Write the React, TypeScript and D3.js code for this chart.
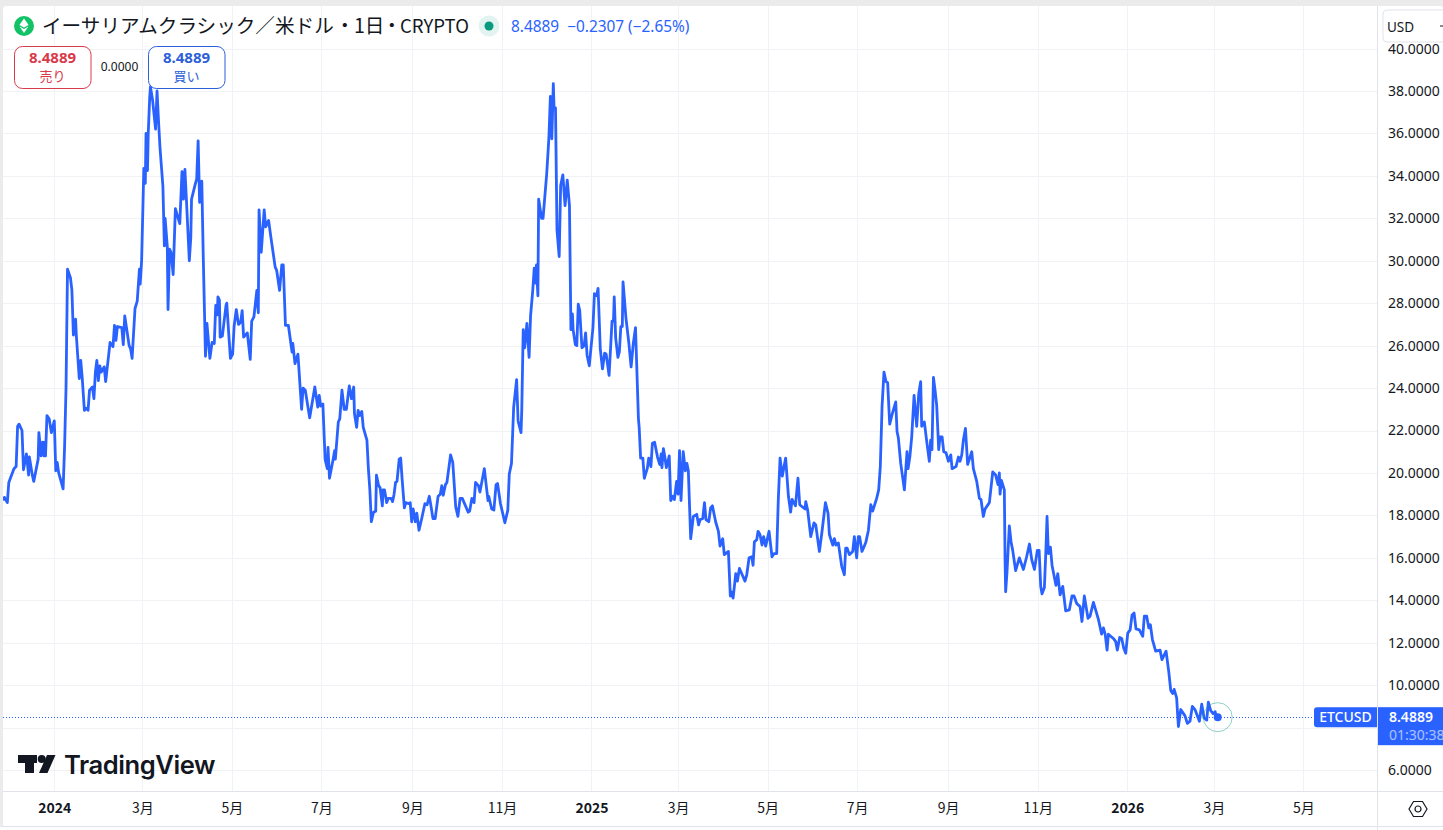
import { useEffect, useRef } from 'react';
import * as d3 from 'd3';

// [days since 2024-01-01, price] at each visible turn of the line
const late2023: [number, number][] = [
  [-35, 18.7], [-34, 18.85], [-32, 18.6], [-31, 19.55], [-27.5, 20.2], [-26, 20.3], [-25, 22.2], [-24, 22.3],
  [-22, 22], [-21, 20.15], [-19, 20.9], [-17.5, 19.9], [-17, 20.75], [-15, 19.9], [-14, 19.6], [-11, 20.65],
  [-10.5, 21.9], [-9, 20.8], [-8, 21.45], [-7, 20.8], [-6.5, 21.45], [-6, 20.8], [-5, 22.7], [-3.5, 22.55],
  [-2, 21.9],
];
const early2024: [number, number][] = [
  [0, 22.45], [1, 20.1], [2, 20.5], [3, 20], [6, 19.25], [7, 21.2], [8, 24.05], [9, 29.6], [11, 29.2], [12, 28.6],
  [13, 26.5], [14.5, 27.25], [15, 26.5], [17, 24.45], [18, 25.3], [19, 24.5], [20.5, 22.95], [21.5, 23.05],
  [23, 22.95], [24, 23.9], [26, 24.05], [27, 23.5], [28, 24.75], [29, 25.3], [30, 24.35], [31, 25.05], [32, 24.75],
  [34, 25], [35, 24.3], [38, 26.15], [40, 25.95], [41, 26.95], [42, 26.25], [43, 26.9], [46, 26.85], [47, 26.05],
  [48, 27.4], [51, 26], [52, 25.85], [53, 25.4], [55, 27.75], [56.5, 28.1], [58, 29.6], [58.5, 28.9], [59.5, 30],
  [61, 34.35], [62, 33.65], [62.5, 36], [63.5, 34.25], [64, 36], [65, 37.7], [65.5, 38.2], [67, 37.55], [69, 36.2],
  [70, 38], [71, 36.6], [72, 35.35], [74, 33.5], [75, 30.7], [75.5, 32], [77, 30.65], [77.5, 27.7], [78.5, 30.55],
  [79.5, 30.4], [81, 29.35], [82.5, 32.45], [85.5, 31.75], [87, 34.2], [88, 32.9], [89, 34.3], [90, 32.9], [92, 30],
  [93, 31.1], [93.5, 32.9], [96, 33.6], [97, 33.85], [98, 35.65], [99, 32.75], [100.5, 33.75], [101.5, 30.15],
  [103, 25.5], [104, 27.05], [106, 25.4], [107.5, 26.15], [109, 26.1], [110, 27.9], [111, 27.45], [111.5, 28.3],
  [112.5, 28.15], [113, 26.4], [114.5, 26.45], [117, 27.9], [117.5, 28], [119, 26.4], [120, 25.4], [121.5, 25.6],
  [122.5, 26.9], [124, 27.7], [125.5, 27], [127, 27.1], [128, 27.65], [129, 26.4], [131.5, 26.6], [133.5, 25.35],
  [134.5, 27.15], [136, 27.35], [138, 28.6], [139, 27.55], [139.5, 32.4], [141, 30.4], [143, 32.4], [144, 31.6],
  [146, 31.9], [148, 30.9], [150.5, 29.7], [151.5, 29.55], [153.5, 28.6], [155, 29.8], [156, 29.8], [157.5, 26.95],
  [159.5, 26.95], [162, 25.7], [162.5, 26.1], [164, 25.15], [166, 25.6], [168.5, 23], [169.5, 24], [171, 23.9],
  [174, 22.6], [177.5, 24.05], [179.5, 23.1], [180.5, 23.65],
];
const late2024: [number, number][] = [
  [181.5, 23.15], [183, 23.25], [184.5, 20.65], [186, 20.2], [186.5, 21.2], [187.5, 19.75], [190, 20.65], [191, 21.05],
  [191.5, 20.65], [193.5, 22.4], [194.5, 22.55], [196, 23.9], [197.5, 23], [199, 23], [201, 24.1], [202.5, 23.5],
  [204, 24.05], [204.5, 22.8], [206, 22.15], [207, 22.95], [208, 22.7], [209.5, 22.9], [210.5, 22.15], [213, 21.55],
  [214, 20.2], [215, 19.2], [216, 17.7], [217.5, 18.15], [219, 18.2], [219.5, 19.9], [221, 19.4], [222, 19.3],
  [223.5, 18.45], [224, 19.2], [225, 19.2], [226.5, 18.6], [227.5, 18.8], [229.5, 18.8], [230.5, 18.65], [231.5, 19],
  [232.5, 19.55], [233.5, 19.6], [235, 20.65], [236, 20.7], [237, 19.7], [238.5, 18.35], [239.5, 18.6], [241.5, 18.55],
  [242.5, 18.6], [243.5, 17.7], [244.5, 18.3], [246, 17.7], [247, 18.1], [248.5, 17.3], [250.5, 17.9], [252.5, 18.55],
  [254, 18.5], [255.5, 18.9], [256.5, 18.5], [258, 17.85], [259.5, 17.85], [261.5, 18.9], [263, 19], [264, 19.4],
  [265, 18.95], [266.5, 19.45], [267.5, 19.55], [270, 20.85], [271.5, 20.5], [273.5, 18.4], [275, 17.95], [276.5, 18.8],
  [278, 18.8], [282, 18.15], [283, 18.2], [284.5, 18.8], [286, 18.6], [287, 19.55], [289, 19.4], [290, 19.1], [293, 20.2],
  [294.5, 19.3], [295.5, 18.7], [296, 18.9], [298, 18.3], [299.5, 18.25], [301, 19.45], [302, 19.5], [304, 18.55],
  [307, 17.65], [309, 18.25], [310, 19.95], [311.5, 20.45], [313, 23.1], [315, 24.4], [316, 22.45], [318, 21.9],
  [318.5, 22.95], [319.5, 26.75], [320.5, 25.9], [322, 27.05], [323.5, 25.45], [324.5, 27.4], [326, 28.6], [327, 29.65],
  [328, 28.95], [328.5, 29.8], [329.5, 28.35], [330, 32.9], [332, 32], [333, 32], [335.5, 34.1], [337, 35.8], [338, 37.75],
  [339, 35.75], [340, 38.35], [340.5, 37.2], [341.5, 37.2], [342.5, 31.45], [344, 30.2], [345, 33.55], [346.5, 34.05],
  [348, 32.6], [349.5, 33.8], [351, 32.6], [352, 26.75], [353, 27.5], [353.5, 26.75], [355, 26.05], [356, 26], [357, 27.95],
  [358, 27.65], [359.5, 25.9], [361, 26], [362, 26.6], [363, 25.55], [364.5, 25.05],
];
const early2025: [number, number][] = [
  [367, 26.85], [368, 28.45], [369.5, 28.35], [370.5, 28.7], [372, 25.85], [373.5, 24.9], [375, 25.65], [376, 25.6],
  [378, 24.6], [380, 27.15], [381, 27.15], [381.5, 28.3], [382.5, 26.35], [384, 25.45], [385, 25.7], [386, 26.9], [387, 26.9],
  [387.5, 29], [389.5, 27.3], [391.5, 26.1], [393, 25], [394.5, 26.1], [396, 26.85], [398, 22.55], [398.5, 22.15],
  [399.5, 20.7], [401, 20.7], [402, 19.75], [404, 20.2], [405, 20.7], [406.5, 20.3], [407.5, 21.4], [409, 21.45], [411, 20.75],
  [412.5, 20.4], [413.5, 20.9], [414, 20.25], [415, 21.15], [416, 20.75], [417, 20.25], [419, 20.8], [420, 18.7],
  [421.5, 18.9], [422.5, 18.75], [424, 19.6], [425, 19], [426, 21.05], [427, 18.7], [428.5, 21], [430, 20.1], [431, 20.45],
  [432, 20.1], [433.6, 16.9], [435.4, 17.95], [437.7, 18.05], [439, 17.55], [440, 17.8], [441.8, 17.85], [443, 18.6],
  [444, 17.8], [445.9, 17.7], [447.2, 18.35], [448.4, 18.45], [450.6, 17.7], [452.5, 17.25], [453.6, 16.55], [455.4, 16.9],
  [456.5, 16.15], [459.3, 16.3], [460.6, 14.2], [461.3, 14.4], [462.5, 14.1], [464.3, 15.25], [465.4, 14.9], [466.8, 15.5],
  [468.4, 15.25], [470.6, 14.9], [471.8, 15.2], [473.4, 16], [475.2, 16.05], [476.1, 15.65], [477, 16.75], [478.6, 16.85],
  [479.5, 17.25], [480.8, 17.1], [482.2, 16.6], [483.3, 17], [484.7, 16.55], [487, 17.25], [489, 16.05], [490.4, 16.2],
  [492.2, 16.2], [493.3, 18.75], [494.5, 20.7], [496, 19.85], [498.3, 20.7], [500.2, 18.9], [501.7, 18.15], [502.7, 18.75],
  [505, 18.45], [506.7, 19.75], [507.9, 18.5], [511.5, 18.3], [512, 18.65], [513.3, 18.25], [515.4, 17], [517.6, 17.65],
  [518.8, 17.55], [521.3, 16.3], [523.1, 17.25], [525.4, 18.6], [527.2, 18.1], [528.1, 17.1], [530.4, 16.6], [531.5, 16.9],
  [532.6, 16.6], [534.2, 16.7], [536.5, 15.6], [538.3, 15.2], [539.2, 16.45], [540.2, 16.45], [541.7, 16.15], [544, 16.3],
  [545.1, 17], [546.7, 16], [547.8, 17], [548.7, 17],
];
const late2025: [number, number][] = [
  [550.3, 16.3], [551.3, 16.45], [553, 16.75], [554.7, 17.3], [556.3, 18.5], [557.6, 18.2], [560.3, 18.8], [561.7, 19.2],
  [562.8, 20.3], [564, 23.15], [565.3, 24.75], [566.7, 24.3], [567.8, 24.25], [569.2, 22.3], [571, 22.8], [573.3, 23.35],
  [574.2, 21.95], [575.1, 21.65], [576.7, 20.45], [579.2, 19.2], [581, 21], [581.7, 20.2], [583, 20.8], [584.2, 21.7],
  [585.8, 23.65], [587.6, 22.2], [589, 23.75], [590.3, 24.3], [591, 22.2], [592.8, 22.4], [594.4, 21.5], [596.2, 20.55],
  [597.1, 21.55], [598, 21.1], [599, 24.5], [600.1, 23.9], [601.2, 23.2], [602.6, 21.1], [603.5, 21.7], [604.9, 21.7],
  [606, 21], [607.6, 20.95], [609.2, 20.55], [610.8, 20.85], [611.7, 20.2], [614.4, 20.3], [616, 20.75], [617.1, 20.55],
  [618.3, 20.85], [619.4, 21.55], [620.8, 22.1], [622.3, 20.4], [625.1, 21], [626.2, 20.2], [628.5, 19.6], [630.3, 18.8],
  [631.4, 18.75], [633, 17.95], [634.2, 18.3], [637.1, 18.6], [639.4, 20.05], [641.4, 19.9], [643, 19.45], [643.9, 20],
  [644.4, 19], [645.3, 19.65], [647.3, 19.2], [647.8, 15.9], [648.2, 14.4], [649.1, 15.3], [650.7, 17.5], [651.9, 16.75],
  [653, 16.35], [655, 15.4], [657.5, 16], [660.3, 15.45], [662.5, 16.05], [664.4, 16.65], [666, 15.9], [667.8, 15.45],
  [669.8, 16.35], [671, 16.35], [672.1, 14.65], [673, 14.3], [674.6, 14.6], [675.7, 16.5], [676.4, 17.95], [677.3, 16.2],
  [678.7, 16.5], [679.8, 15.65], [682.5, 14.7], [683.7, 15.25], [685.3, 14.25], [687.1, 14.65], [689.1, 13.5], [691.6, 13.55],
  [693.4, 14.2], [694.8, 14.2], [696.6, 13.85], [698.9, 13.7], [700.2, 13], [701.8, 14.2], [704.3, 13.15], [705.7, 13.25],
  [708, 13.9], [711.4, 13.1], [713.6, 12.4], [714.8, 12.7], [716, 12.4], [717.3, 11.65], [718.2, 12.4], [721.6, 12.2],
  [723.2, 12.05], [724.3, 11.65], [725.9, 12.25], [727.3, 12.2], [728.6, 11.75],
];
const early2026: [number, number][] = [
  [730, 11.5], [731.4, 12.45], [733, 12.6], [734.3, 13.3], [735.7, 13.4], [737, 12.65], [739.3, 12.6], [741.6, 12.3],
  [742.7, 13.25], [744.3, 13.25], [745.7, 12.7], [746.8, 12.85], [748.2, 12.15], [750.4, 11.6], [753.4, 11.65], [754.7, 11.2],
  [757.5, 11.6], [759.3, 10.65], [760.7, 9.75], [762, 9.6], [763, 9.8], [764.7, 9.4], [765.4, 8.6], [765.9, 8.05],
  [767.5, 8.85], [770.4, 8.55], [772, 8.2], [773.8, 8.3], [775.4, 9], [777.2, 8.85], [780.2, 8.3], [781.8, 9.1],
  [783.4, 8.45], [785.2, 8.35], [786.3, 9.2], [787.9, 8.8], [789.7, 8.65], [790.9, 8.75], [792, 8.45], [792.7, 8.4889],
];

const priceTicks = [6, 10, 12, 14, 16, 18, 20, 22, 24, 26, 28, 30, 32, 34, 36, 38, 40];
const gridPrices = [6, 8, 10, 12, 14, 16, 18, 20, 22, 24, 26, 28, 30, 32, 34, 36, 38, 40];
const monthTicks = [
  '2024-01-01', '2024-03-01', '2024-05-01', '2024-07-01', '2024-09-01', '2024-11-01', '2025-01-01',
  '2025-03-01', '2025-05-01', '2025-07-01', '2025-09-01', '2025-11-01', '2026-01-01', '2026-03-01', '2026-05-01',
];
const monthLabels = ['2024', '3月', '5月', '7月', '9月', '11月', '2025', '3月', '5月', '7月', '9月', '11月', '2026', '3月', '5月'];
const lastPrice = 8.4889;

const BLUE = '#2962ff';
const GRID = '#f0f2f6';
const BORDER = '#e0e3eb';
const TEXT = '#131722';
const FONT = '"Noto Sans", "Noto Sans CJK JP", sans-serif';
const JP_FONT = '"Noto Sans CJK JP", "Noto Sans", sans-serif';

const DAY_MS = 86400000;
const dayToDate = (d: number) => new Date(Date.UTC(2024, 0, 1) + d * DAY_MS);

export default function App() {
  const svgRef = useRef<SVGSVGElement>(null);

  useEffect(() => {
    if (!svgRef.current) return;
    const svg = d3.select(svgRef.current);
    svg.selectAll('*').remove();

    const left = 3, top = 6, plotRight = 1377, plotBottom = 791, axisBottom = 827;

    const x = d3.scaleUtc()
      .domain([new Date('2024-01-01'), new Date('2026-05-01')])
      .range([54.3, 1303.3]);
    const y = d3.scaleLinear().domain([6, 38]).range([770, 91]);

    // page frame
    svg.append('rect').attr('width', 1443).attr('height', 830).attr('fill', '#ebebeb');
    svg.append('rect').attr('x', left).attr('y', top).attr('width', 1440).attr('height', 821).attr('rx', 3).attr('fill', '#fff');
    svg.append('rect').attr('y', 827).attr('width', 1443).attr('height', 3).attr('fill', '#fff');

    const defs = svg.append('defs');
    defs.append('clipPath').attr('id', 'plot-clip').append('rect')
      .attr('x', left).attr('y', top).attr('width', plotRight - left).attr('height', plotBottom - top);
    defs.append('clipPath').attr('id', 'price-clip').append('rect')
      .attr('x', 1378).attr('y', 0).attr('width', 65).attr('height', 830);

    // grid
    const grid = svg.append('g').attr('stroke', GRID).attr('stroke-width', 1);
    grid.selectAll('line.h').data(gridPrices).enter().append('line')
      .attr('x1', left).attr('x2', plotRight)
      .attr('y1', d => Math.round(y(d)) + 0.5).attr('y2', d => Math.round(y(d)) + 0.5);
    grid.selectAll('line.v').data(monthTicks).enter().append('line')
      .attr('x1', d => Math.round(x(new Date(d))) + 0.5).attr('x2', d => Math.round(x(new Date(d))) + 0.5)
      .attr('y1', top).attr('y2', plotBottom);

    // watermark
    const logo = svg.append('g').attr('fill', TEXT);
    logo.append('path').attr('d', 'M18 755h19v8h-3v10h-9v-10h-7z');
    logo.append('circle').attr('cx', 41.7).attr('cy', 759).attr('r', 4);
    logo.append('path').attr('d', 'M47 755h8.5l-8 18h-8.5z');
    logo.append('text').attr('x', 64).attr('y', 773.5)
      .style('font-family', '"Inter", sans-serif').style('font-size', '25.6px').style('font-weight', 600)
      .style('letter-spacing', '-0.45px').text('TradingView');

    // last price line
    svg.append('line')
      .attr('x1', left).attr('x2', 1314).attr('y1', Math.round(y(lastPrice)) + 0.5).attr('y2', Math.round(y(lastPrice)) + 0.5)
      .attr('stroke', BLUE).attr('stroke-width', 1).attr('stroke-dasharray', '1 2');

    // price line
    const points = [...late2023, ...early2024, ...late2024, ...early2025, ...late2025, ...early2026];
    const line = d3.line<[number, number]>()
      .x(d => x(dayToDate(d[0])))
      .y(d => y(d[1]));
    svg.append('path')
      .datum(points)
      .attr('clip-path', 'url(#plot-clip)')
      .attr('fill', 'none')
      .attr('stroke', BLUE)
      .attr('stroke-width', 2.8)
      .attr('stroke-linejoin', 'round')
      .attr('d', line);

    // last point marker
    const last = points[points.length - 1];
    const lastX = x(dayToDate(last[0]));
    svg.append('circle').attr('cx', lastX).attr('cy', y(last[1])).attr('r', 14.5)
      .attr('fill', 'none').attr('stroke', '#089981').attr('stroke-opacity', 0.45).attr('stroke-width', 1);
    svg.append('circle').attr('cx', lastX).attr('cy', y(last[1])).attr('r', 4).attr('fill', BLUE);

    // price axis
    const yAxis = svg.append('g')
      .attr('transform', `translate(${plotRight},0)`)
      .call(d3.axisRight(y).tickValues(priceTicks).tickSize(0).tickPadding(11).tickFormat(d => (+d).toFixed(4)));
    yAxis.select('.domain').remove();
    yAxis.selectAll('text')
      .style('font-family', FONT).style('font-size', '14px').style('fill', TEXT);

    // time axis
    const xAxis = svg.append('g')
      .attr('transform', `translate(0,${plotBottom})`)
      .call(d3.axisBottom(x)
        .tickValues(monthTicks.map(d => new Date(d)))
        .tickSize(0)
        .tickPadding(12)
        .tickFormat((_, i) => monthLabels[i]));
    xAxis.select('.domain').remove();
    xAxis.selectAll('text')
      .style('font-family', JP_FONT).style('font-size', '14px').style('fill', TEXT)
      .style('font-weight', (_, i) => (monthLabels[i].length === 4 ? 700 : 400));

    // axis borders
    const borders = svg.append('g').attr('stroke', BORDER).attr('stroke-width', 1);
    borders.append('line').attr('x1', left).attr('x2', 1443).attr('y1', plotBottom + 0.5).attr('y2', plotBottom + 0.5);
    borders.append('line').attr('x1', left).attr('x2', 1443).attr('y1', axisBottom - 0.5).attr('y2', axisBottom - 0.5);
    borders.append('line').attr('x1', plotRight + 0.5).attr('x2', plotRight + 0.5).attr('y1', top).attr('y2', 830);

    // settings icon
    const gear = svg.append('g').attr('transform', 'translate(1418,809)').attr('fill', 'none').attr('stroke', TEXT).attr('stroke-width', 1.2);
    gear.append('path').attr('d', 'M-9 0L-4.5-7.5h9L9 0 4.5 7.5h-9z');
    gear.append('circle').attr('r', 3);

    // currency selector
    svg.append('rect').attr('x', 1383).attr('y', 10).attr('width', 70).attr('height', 32).attr('rx', 4)
      .attr('fill', '#fff').attr('stroke', BORDER);
    svg.append('text').attr('x', 1387).attr('y', 31.5).style('font-family', FONT).style('font-size', '13.5px').style('fill', TEXT).text('USD');
    svg.append('path').attr('d', 'M1440 26h3').attr('stroke', TEXT).attr('stroke-width', 1);

    // last price flags
    const flagY = y(lastPrice);
    svg.append('path')
      .attr('d', `M1377 ${flagY - 10}H1317a3 3 0 0 0-3 3V${flagY + 7}a3 3 0 0 0 3 3H1377z`)
      .attr('fill', BLUE);
    svg.append('text').attr('x', 1345.5).attr('y', flagY + 5).attr('text-anchor', 'middle')
      .style('font-family', FONT).style('font-size', '14px').style('font-weight', 500).style('fill', '#fff').text('ETCUSD');
    const priceFlag = svg.append('g').attr('clip-path', 'url(#price-clip)');
    priceFlag.append('rect').attr('x', 1378).attr('y', flagY - 10).attr('width', 65).attr('height', 38).attr('fill', BLUE);
    priceFlag.append('text').attr('x', 1389).attr('y', flagY + 5)
      .style('font-family', FONT).style('font-size', '14px').style('font-weight', 600).style('fill', '#fff').text(lastPrice.toFixed(4));
    priceFlag.append('text').attr('x', 1389).attr('y', flagY + 23)
      .style('font-family', FONT).style('font-size', '14px').style('fill', '#fff').style('opacity', 0.6).text('01:30:38');

    // header
    svg.append('circle').attr('cx', 24).attr('cy', 26).attr('r', 10).attr('fill', '#12c266');
    const etc = svg.append('g').attr('fill', '#fff');
    etc.append('path').attr('d', 'M24 18.5l4.6 6.6L24 27.6l-4.6-2.5z');
    etc.append('path').attr('d', 'M19.6 26.6L24 29l4.4-2.4L24 33z');
    const title = svg.append('text').attr('y', 33)
      .style('font-family', JP_FONT).style('font-size', '19.6px').style('fill', TEXT);
    title.append('tspan').attr('x', 42).text('イーサリアムクラシック／米ドル');
    title.append('tspan').attr('x', 335).text('・');
    title.append('tspan').attr('x', 354).text('1日');
    title.append('tspan').attr('x', 382).text('・');
    title.append('tspan').attr('x', 400).style('font-size', '18.5px').text('CRYPTO');
    svg.append('circle').attr('cx', 489).attr('cy', 26).attr('r', 10.5).attr('fill', '#e2f3f0');
    svg.append('circle').attr('cx', 489).attr('cy', 26).attr('r', 4.5).attr('fill', '#089981');
    svg.append('text').attr('x', 511).attr('y', 31.5)
      .style('font-family', FONT).style('font-size', '15.4px').style('fill', BLUE).style('white-space', 'pre')
      .text('8.4889  −0.2307 (−2.65%)');

    // sell / buy boxes
    const boxes = [
      { x: 14.5, color: '#d93a4a', price: lastPrice.toFixed(4), label: '売り' },
      { x: 148.5, color: '#2d5fd8', price: lastPrice.toFixed(4), label: '買い' },
    ];
    boxes.forEach(b => {
      svg.append('rect').attr('x', b.x).attr('y', 46.5).attr('width', 76.5).attr('height', 42).attr('rx', 8)
        .attr('fill', '#fff').attr('stroke', b.color);
      svg.append('text').attr('x', b.x + 38).attr('y', 63).attr('text-anchor', 'middle')
        .style('font-family', FONT).style('font-size', '15px').style('font-weight', 700).style('fill', b.color).text(b.price);
      svg.append('text').attr('x', b.x + 38).attr('y', 81).attr('text-anchor', 'middle')
        .style('font-family', JP_FONT).style('font-size', '13px').style('fill', b.color).text(b.label);
    });
    svg.append('text').attr('x', 119.5).attr('y', 71).attr('text-anchor', 'middle')
      .style('font-family', FONT).style('font-size', '12px').style('fill', TEXT).text('0.0000');
  }, []);

  return (
    <div style={{ position: 'absolute', left: 0, top: 0, width: 1443, height: 830, overflow: 'hidden' }}>
      <svg ref={svgRef} width={1443} height={830} style={{ display: 'block' }} />
    </div>
  );
}
